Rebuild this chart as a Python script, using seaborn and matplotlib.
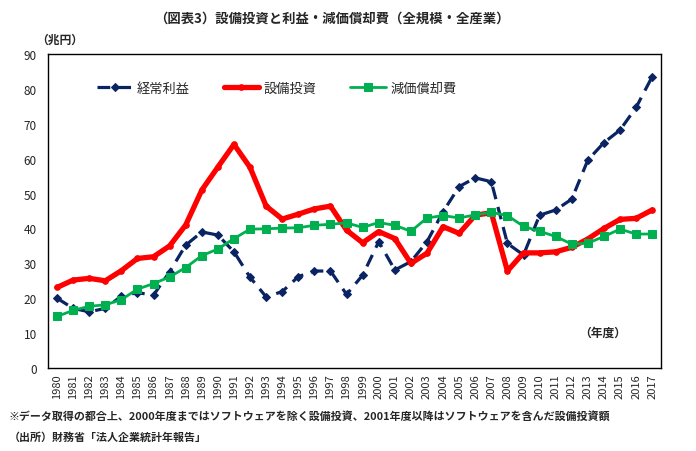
import numpy as np
import pandas as pd
import matplotlib
matplotlib.use("Agg")
import matplotlib.pyplot as plt
import seaborn as sns
from matplotlib.ticker import MultipleLocator, FixedLocator

# data (兆円)
years = list(range(1980, 2018))
keijo_rieki = [20.0, 17.1, 16.1, 17.1, 20.6, 21.6, 20.9, 27.6, 35.2, 39.0,
               38.1, 33.3, 26.0, 20.4, 21.9, 26.2, 27.8, 27.8, 21.1, 26.6,
               36.2, 28.1, 30.5, 36.2, 44.8, 52.0, 54.5, 53.4, 35.7, 32.4,
               43.8, 45.3, 48.4, 59.6, 64.6, 68.2, 74.7, 83.5]
setsubi_toshi = [23.1, 25.2, 25.7, 25.0, 27.9, 31.4, 31.9, 35.0, 41.0, 51.0,
                 57.6, 64.1, 57.5, 46.4, 42.7, 44.1, 45.6, 46.4, 39.5, 35.9,
                 39.1, 37.1, 30.0, 32.9, 40.5, 38.6, 43.8, 44.5, 27.8, 33.0,
                 33.0, 33.3, 34.6, 37.0, 40.0, 42.6, 42.9, 45.3]
genka_shokyaku = [14.8, 16.5, 17.7, 18.1, 19.6, 22.6, 24.2, 26.1, 28.8, 32.2,
                  34.1, 37.1, 39.8, 39.9, 40.1, 40.2, 40.9, 41.2, 41.6, 40.3,
                  41.7, 40.9, 39.2, 43.0, 43.7, 43.0, 43.9, 44.6, 43.7, 40.6,
                  39.2, 37.7, 35.5, 35.8, 37.7, 39.8, 38.4, 38.4]

df = pd.DataFrame({"year": years, "経常利益": keijo_rieki,
                   "設備投資": setsubi_toshi, "減価償却費": genka_shokyaku})

sns.set_style("white")
plt.rcParams['font.family'] = ['Noto Sans CJK JP', 'DejaVu Sans']

fig = plt.figure(figsize=(6.96, 4.52), dpi=100)
ax = fig.add_axes([0.069, 0.1836, 0.881, 0.6947])

navy = "#0A2463"
red = "#FF0000"
green = "#00B050"

sns.lineplot(data=df, x="year", y="経常利益", ax=ax, color=navy, lw=2.3,
             linestyle=(0, (4, 2.5)), marker="D", markersize=4.5,
             markeredgecolor=navy, label="経常利益")
sns.lineplot(data=df, x="year", y="設備投資", ax=ax, color=red, lw=3.8,
             marker="o", markersize=4, markeredgecolor=red, label="設備投資")
sns.lineplot(data=df, x="year", y="減価償却費", ax=ax, color=green, lw=2.0,
             marker="s", markersize=6, markeredgecolor=green, label="減価償却費")

ax.set_xlim(1979.44, 2017.56)
ax.set_ylim(0, 90)
ax.yaxis.set_major_locator(MultipleLocator(10))
ax.set_xticks(years)
ax.set_xticklabels([str(y) for y in years], rotation=90, fontsize=8)
ax.xaxis.set_minor_locator(FixedLocator(np.arange(1980.5, 2017, 1.0)))
ax.tick_params(axis="x", which="major", length=0, pad=4)
ax.tick_params(axis="x", which="minor", direction="in", length=4, width=0.8)
ax.tick_params(axis="y", direction="in", length=4, width=0.8, labelsize=8.5, pad=8)
ax.set_xlabel("")
ax.set_ylabel("")
for s in ax.spines.values():
    s.set_linewidth(1.0)
    s.set_color("black")

ax.legend(loc="upper left", bbox_to_anchor=(0.06, 0.95), ncol=3, frameon=False,
          fontsize=9.5, handlelength=2.7, columnspacing=2.6, handletextpad=0.3)

fig.text(0.477, 0.958, "（図表3）設備投資と利益・減価償却費（全規模・全産業）",
         ha="center", va="center", fontsize=9.6, fontweight="bold")
fig.text(0.052, 0.912, "（兆円）", ha="left", va="center", fontsize=8.5, fontweight="bold")
ax.text(0.905, 0.115, "（年度）", transform=ax.transAxes, ha="center", va="center",
        fontsize=8.5, fontweight="bold")
fig.text(0.012, 0.078, "※データ取得の都合上、2000年度まではソフトウェアを除く設備投資、2001年度以降はソフトウェアを含んだ設備投資額",
         ha="left", va="center", fontsize=7.9, fontweight="bold")
fig.text(0.012, 0.031, "（出所）財務省「法人企業統計年報告」", ha="left", va="center",
         fontsize=7.9, fontweight="bold")

fig.savefig("out.png", dpi=100)
